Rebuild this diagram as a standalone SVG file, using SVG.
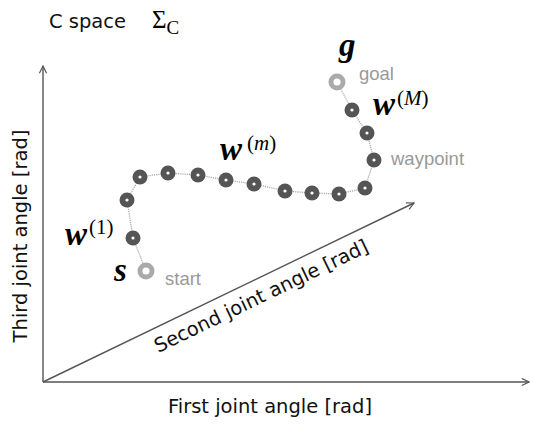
<svg xmlns="http://www.w3.org/2000/svg" width="533" height="424" viewBox="0 0 533 424">
<defs>
<style>
.axis{stroke:#555;stroke-width:1.4;fill:none}
.lbl{font-family:"DejaVu Sans",Verdana,sans-serif;font-size:19.5px;fill:#111}
.math{font-family:"Liberation Serif","DejaVu Serif",serif;fill:#000}
.bw{font-weight:bold;font-style:italic;font-size:33px}
.sup{font-size:21px}
.tag{font-family:"Liberation Sans",Arial,sans-serif;font-size:18.5px;fill:#999}
.wp{fill:#555}
.dot{fill:#fff}
.end{fill:#aaa}
.path{stroke:#aaa;stroke-width:1.3;fill:none;stroke-dasharray:1.2 1}
</style>
<marker id="arr" viewBox="0 0 10 10" refX="9" refY="5" markerWidth="9" markerHeight="9" markerUnits="userSpaceOnUse" orient="auto">
<path d="M1,1 L9,5 L1,9" fill="none" stroke="#555" stroke-width="1.3"/>
</marker>
</defs>
<rect width="533" height="424" fill="#fff"/>
<text class="lbl" x="49" y="28" font-size="21">C space</text>
<text class="math" x="152" y="28" font-size="25">Σ<tspan font-size="19" dy="6">C</tspan></text>
<g id="connectors">
<line class="axis" x1="43" y1="382" x2="43" y2="66" marker-end="url(#arr)"/>
<line class="axis" x1="43" y1="382" x2="529" y2="382" marker-end="url(#arr)"/>
<line class="axis" x1="43" y1="382" x2="414" y2="203" marker-end="url(#arr)"/>
<polyline class="path" points="146,271 133,238 127,200 140,177 168,173 198,175 226,180 254,184 285,191 312,193 339,194 365,188 374,160 367,133 352,110 337,82"/>
</g>
<text class="lbl" x="270" y="413" text-anchor="middle">First joint angle [rad]</text>
<text class="lbl" transform="translate(27,236) rotate(-90)" text-anchor="middle">Third joint angle [rad]</text>
<text class="lbl" transform="translate(264,302) rotate(-25.7)" text-anchor="middle">Second joint angle [rad]</text>
<g id="start"><circle class="end" cx="146" cy="271" r="8.5"/><circle class="dot" cx="146" cy="271" r="3.6"/>
<text class="math bw" x="114" y="281">s</text><text class="tag" x="165" y="285">start</text></g>
<g id="w1"><circle class="wp" cx="133" cy="238" r="7.5"/><circle class="dot" cx="133" cy="238" r="1.6"/>
<text class="math bw" x="65" y="245">w</text><text class="math sup" x="89" y="234">(1)</text></g>
<g id="w2"><circle class="wp" cx="127" cy="200" r="7.5"/><circle class="dot" cx="127" cy="200" r="1.6"/></g>
<g id="w3"><circle class="wp" cx="140" cy="177" r="7.5"/><circle class="dot" cx="140" cy="177" r="1.6"/></g>
<g id="w4"><circle class="wp" cx="168" cy="173" r="7.5"/><circle class="dot" cx="168" cy="173" r="1.6"/></g>
<g id="w5"><circle class="wp" cx="198" cy="175" r="7.5"/><circle class="dot" cx="198" cy="175" r="1.6"/></g>
<g id="w6"><circle class="wp" cx="226" cy="180" r="7.5"/><circle class="dot" cx="226" cy="180" r="1.6"/>
<text class="math bw" x="220" y="160">w</text><text class="math sup" x="247" y="150">(<tspan font-style="italic">m</tspan>)</text></g>
<g id="w7"><circle class="wp" cx="254" cy="184" r="7.5"/><circle class="dot" cx="254" cy="184" r="1.6"/></g>
<g id="w8"><circle class="wp" cx="285" cy="191" r="7.5"/><circle class="dot" cx="285" cy="191" r="1.6"/></g>
<g id="w9"><circle class="wp" cx="312" cy="193" r="7.5"/><circle class="dot" cx="312" cy="193" r="1.6"/></g>
<g id="w10"><circle class="wp" cx="339" cy="194" r="7.5"/><circle class="dot" cx="339" cy="194" r="1.6"/></g>
<g id="w11"><circle class="wp" cx="365" cy="188" r="7.5"/><circle class="dot" cx="365" cy="188" r="1.6"/></g>
<g id="w12"><circle class="wp" cx="374" cy="160" r="7.5"/><circle class="dot" cx="374" cy="160" r="1.6"/>
<text class="tag" x="391" y="165">waypoint</text></g>
<g id="w13"><circle class="wp" cx="367" cy="133" r="7.5"/><circle class="dot" cx="367" cy="133" r="1.6"/></g>
<g id="wM"><circle class="wp" cx="352" cy="110" r="7.5"/><circle class="dot" cx="352" cy="110" r="1.6"/>
<text class="math bw" x="373" y="115">w</text><text class="math sup" x="397" y="105">(<tspan font-style="italic">M</tspan>)</text></g>
<g id="goal"><circle class="end" cx="337" cy="82" r="8.5"/><circle class="dot" cx="337" cy="82" r="3.6"/>
<text class="math bw" x="339" y="56">g</text><text class="tag" x="359" y="80">goal</text></g>
</svg>
